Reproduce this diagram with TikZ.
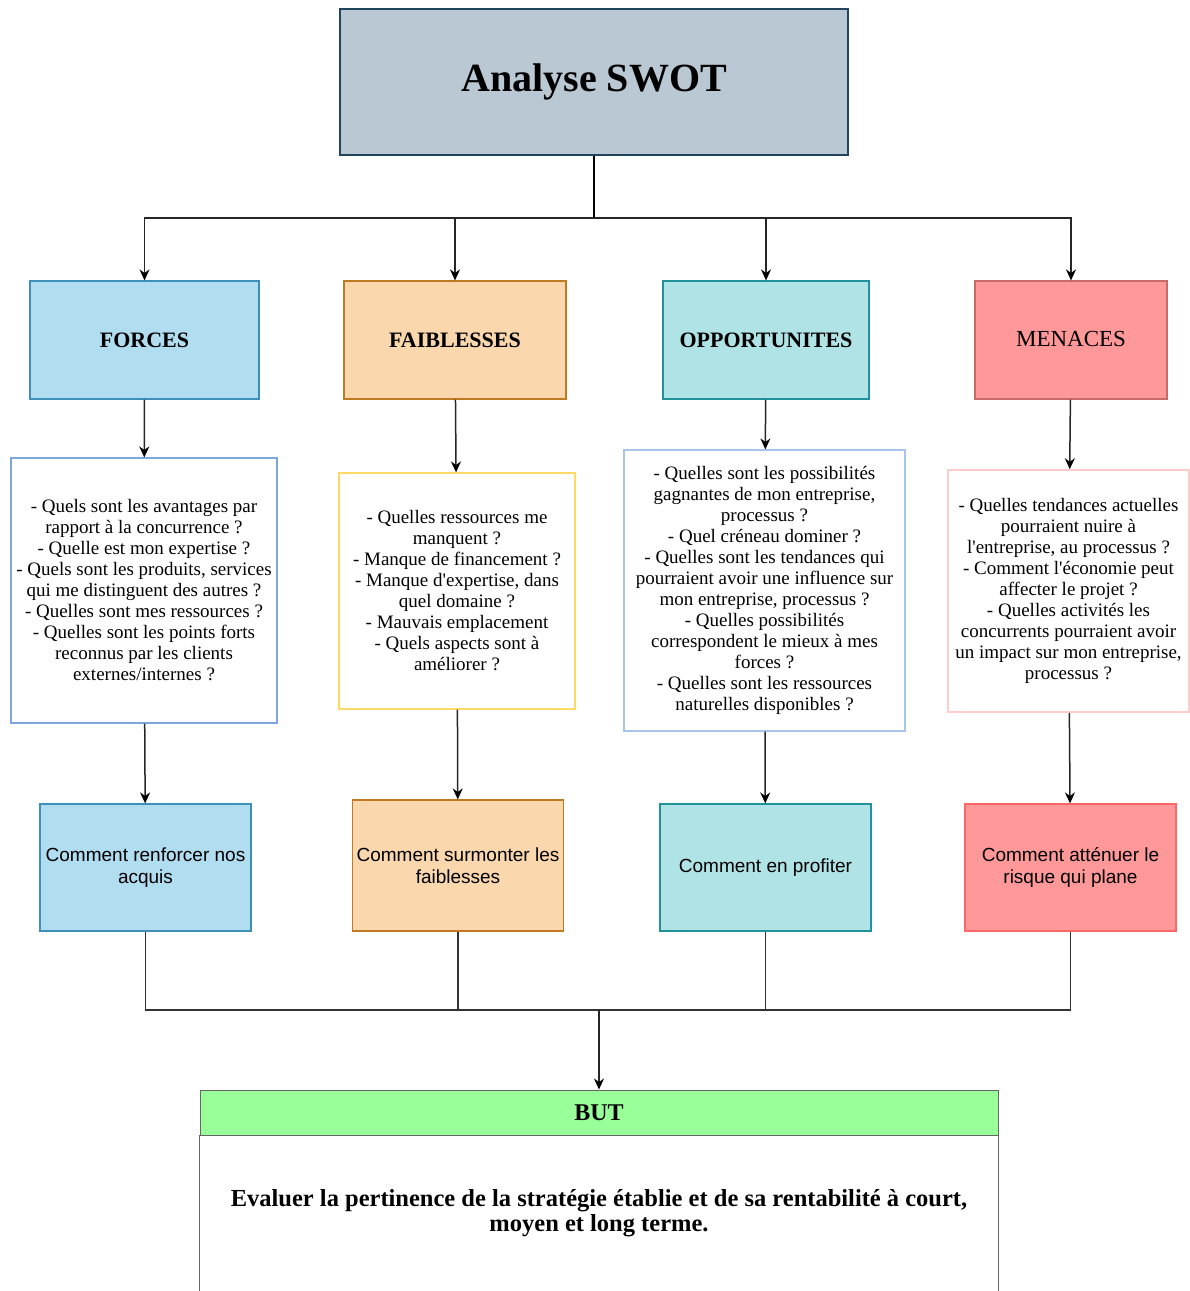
\documentclass[tikz,border=0pt]{standalone}
\usepackage{fontspec}
\setmainfont{Liberation Serif}
\setsansfont{Liberation Sans}
\usepackage{tikz}
\usetikzlibrary{arrows.meta}

\definecolor{titlefill}{HTML}{BAC8D3}
\definecolor{titledraw}{HTML}{23445D}
\definecolor{forcefill}{HTML}{B1DDF0}
\definecolor{forcedraw}{HTML}{3E8FBA}
\definecolor{faiblfill}{HTML}{FAD7AC}
\definecolor{faibldraw}{HTML}{C27A22}
\definecolor{opportfill}{HTML}{B0E3E6}
\definecolor{opportdraw}{HTML}{23919A}
\definecolor{menacefill}{HTML}{FF9999}
\definecolor{menacedraw}{HTML}{C86A66}
\definecolor{menacedrawb}{HTML}{FF6666}
\definecolor{forceqdraw}{HTML}{7EA6E0}
\definecolor{faiblqdraw}{HTML}{FFD966}
\definecolor{opportqdraw}{HTML}{A9C4EB}
\definecolor{menaceqdraw}{HTML}{FFCCCC}
\definecolor{butfill}{HTML}{99FF99}
\definecolor{butdraw}{HTML}{666666}

\begin{document}
\begin{tikzpicture}[x=1pt, y=-1pt]
	\useasboundingbox (0,0) rectangle (1190,1291);
	% titre et categories
	\begin{scope}[every node/.style = {rectangle, draw, line width=1.2pt, inner sep=0pt, align=center,
			minimum height=118pt, font=\bfseries\fontsize{22}{26}\selectfont}]
		\node[fill=titlefill, draw=titledraw, minimum width=508pt, minimum height=146pt,
			font=\bfseries\fontsize{40}{44}\selectfont] (title) at (594,82) {\raisebox{-3pt}{Analyse SWOT}};
		\node[fill=forcefill, draw=forcedraw, minimum width=229pt] (forces) at (144.5,340) {FORCES};
		\node[fill=faiblfill, draw=faibldraw, minimum width=222pt] (faibl) at (455,340) {FAIBLESSES};
		\node[fill=opportfill, draw=opportdraw, minimum width=206pt] (opport) at (766,340) {OPPORTUNITES};
		\node[fill=menacefill, draw=menacedraw, minimum width=192pt,
			font=\fontsize{23}{26}\selectfont] (menaces) at (1071,340) {\raisebox{3pt}{MENACES}};
	\end{scope}
	% questions
	\begin{scope}[every node/.style = {rectangle, draw, line width=1.2pt, inner sep=0pt, align=center,
			fill=white, font=\fontsize{19}{21}\selectfont}]
		\node[draw=forceqdraw, minimum width=266pt, minimum height=265pt] (forcesq) at (144,590.5)
			{- Quels sont les avantages par\\ rapport à la concurrence ?\\ - Quelle est mon expertise ?\\
			 - Quels sont les produits, services\\ qui me distinguent des autres ?\\ - Quelles sont mes ressources ?\\
			 - Quelles sont les points forts\\ reconnus par les clients\\ externes/internes ?};
		\node[draw=faiblqdraw, minimum width=236pt, minimum height=236pt] (faiblq) at (457,591)
			{- Quelles ressources me\\ manquent ?\\ - Manque de financement ?\\ - Manque d\textquotesingle expertise, dans\\
			 quel domaine ?\\ - Mauvais emplacement\\ - Quels aspects sont à\\ améliorer ?};
		\node[draw=opportqdraw, minimum width=281pt, minimum height=281pt] (opportq) at (764.5,590.5)
			{- Quelles sont les possibilités\\ gagnantes de mon entreprise,\\ processus ?\\ - Quel créneau dominer ?\\
			 - Quelles sont les tendances qui\\ pourraient avoir une influence sur\\ mon entreprise, processus ?\\
			 - Quelles possibilités\\ correspondent le mieux à mes\\ forces ?\\ - Quelles sont les ressources\\
			 naturelles disponibles ?};
		\node[draw=menaceqdraw, line width=1.6pt, minimum width=241pt, minimum height=242pt] (menacesq) at (1068.5,591)
			{- Quelles tendances actuelles\\ pourraient nuire à\\ l\textquotesingle entreprise, au processus ?\\
			 - Comment l\textquotesingle économie peut\\ affecter le projet ?\\ - Quelles activités les\\
			 concurrents pourraient avoir\\ un impact sur mon entreprise,\\ processus ?};
	\end{scope}
	% pistes d'action
	\begin{scope}[every node/.style = {rectangle, draw, line width=1.2pt, inner sep=0pt, align=center,
			minimum width=211pt, minimum height=127pt, font=\sffamily\fontsize{19}{22}\selectfont}]
		\node[fill=forcefill, draw=forcedraw] (forcesr) at (145.5,867.5) {Comment renforcer nos\\ acquis};
		\node[fill=faiblfill, draw=faibldraw, minimum height=131pt] (faiblr) at (458,865.5) {Comment surmonter les\\ faiblesses};
		\node[fill=opportfill, draw=opportdraw] (opportr) at (765.5,867.5) {Comment en profiter};
		\node[fill=menacefill, draw=menacedrawb] (menacesr) at (1070.5,867.5) {Comment atténuer le\\ risque qui plane};
	\end{scope}
	% but
	\node[rectangle, draw=butdraw, fill=butfill, line width=1pt, minimum width=798pt, minimum height=45pt,
		inner sep=0pt, font=\bfseries\fontsize{24}{26}\selectfont] (but) at (599,1112.5) {BUT};
	\node[minimum width=798pt, minimum height=156pt, inner sep=0pt, align=center,
		font=\bfseries\fontsize{24.5}{25}\selectfont] (butbody) at (599,1213)
		{Evaluer la pertinence de la stratégie établie et de sa rentabilité à court,\\ moyen et long terme.};
	\draw[butdraw, line width=1pt] (butbody.south west) -- (butbody.north west)
		(butbody.north east) -- (butbody.south east);
	% connecteurs
	\begin{scope}[>={Stealth[black, length=11pt, width=10pt]},
			every edge/.style={draw=black!85, line width=1.5pt}]
		\coordinate (split) at (594,218);
		\coordinate (merge) at (599,1010);
		\foreach \n in {forces, faibl, opport, menaces}
			\draw[->, black!85, line width=1.5pt] (title.south) -- (split) -| (\n.north);
		\draw[line width=2.5pt] (title.south) -- (split);
		\path [->] (forces) edge (forcesq) (forcesq) edge (forcesr);
		\path [->] (faibl) edge (faiblq) (faiblq) edge (faiblr);
		\path [->] (opport) edge (opportq) (opportq) edge (opportr);
		\path [->] (menaces) edge (menacesq) (menacesq) edge (menacesr);
		\foreach \n in {forcesr, faiblr, opportr, menacesr}
			\draw[black!80, line width=1.5pt] (\n.south) |- (merge);
		\path [->] (merge) edge (but);
	\end{scope}
\end{tikzpicture}
\end{document}
